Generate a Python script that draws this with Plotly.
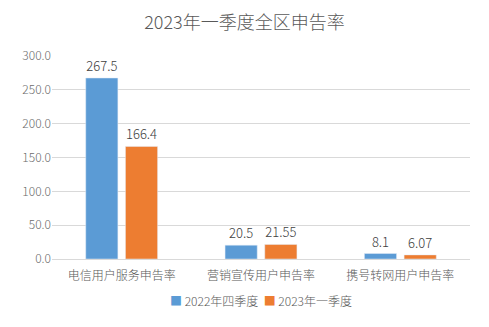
import plotly.graph_objects as go

categories = ["电信用户服务申告率", "营销宣传用户申告率", "携号转网用户申告率"]
series_names = ["2022年四季度", "2023年一季度"]
q4_2022 = [267.5, 20.5, 8.1]
q1_2023 = [166.4, 21.55, 6.07]
tick_vals = [0, 50, 100, 150, 200, 250, 300]
tick_text = ["0.0", "50.0", "100.0", "150.0", "200.0", "250.0", "300.0"]
colors = ["#5B9BD5", "#ED7D31"]

FONT = "Noto Sans CJK SC, Microsoft YaHei, sans-serif"
fig = go.Figure()
for name, vals, color in [(series_names[0], q4_2022, colors[0]), (series_names[1], q1_2023, colors[1])]:
    fig.add_trace(go.Bar(
        x=categories, y=vals, name=name, marker_color=color,
        text=[str(v) for v in vals], textposition="outside",
        textfont=dict(size=13, color="#404040", family=FONT, weight=300),
        cliponaxis=False, showlegend=False,
    ))

legend_text = "&nbsp;&nbsp;".join(
    f"<span style='color:{c}'>■</span> {n}" for n, c in zip(series_names, colors))
fig.add_annotation(text=legend_text, x=0.5, xref="paper", xanchor="center",
                   y=-0.205, yref="paper", yanchor="middle", showarrow=False,
                   font=dict(size=12, color="#595959", family=FONT, weight=300))

fig.update_layout(
    width=489, height=327,
    margin=dict(l=52, r=19, t=56, b=68),
    paper_bgcolor="white", plot_bgcolor="white",
    title=dict(text="2023年一季度全区申告率", x=0.5, xanchor="center", y=0.93, yanchor="middle",
               font=dict(size=18, color="#595959", family=FONT, weight=300)),
    barmode="group", bargap=0.43, bargroupgap=0.19,
    font=dict(family=FONT, color="#595959"),
)
fig.update_yaxes(range=[0, 300], tickvals=tick_vals, ticktext=tick_text,
                 showgrid=True, gridcolor="#D9D9D9", gridwidth=1, zeroline=False,
                 tickfont=dict(size=12, color="#6b6b6b", family=FONT, weight=300), ticks="", ticklen=0)
fig.update_xaxes(showline=True, linecolor="#D9D9D9", linewidth=1, ticks="", ticklabelstandoff=6,
                 tickfont=dict(size=12, color="#595959", family=FONT, weight=300))
fig.write_html("out.html")
